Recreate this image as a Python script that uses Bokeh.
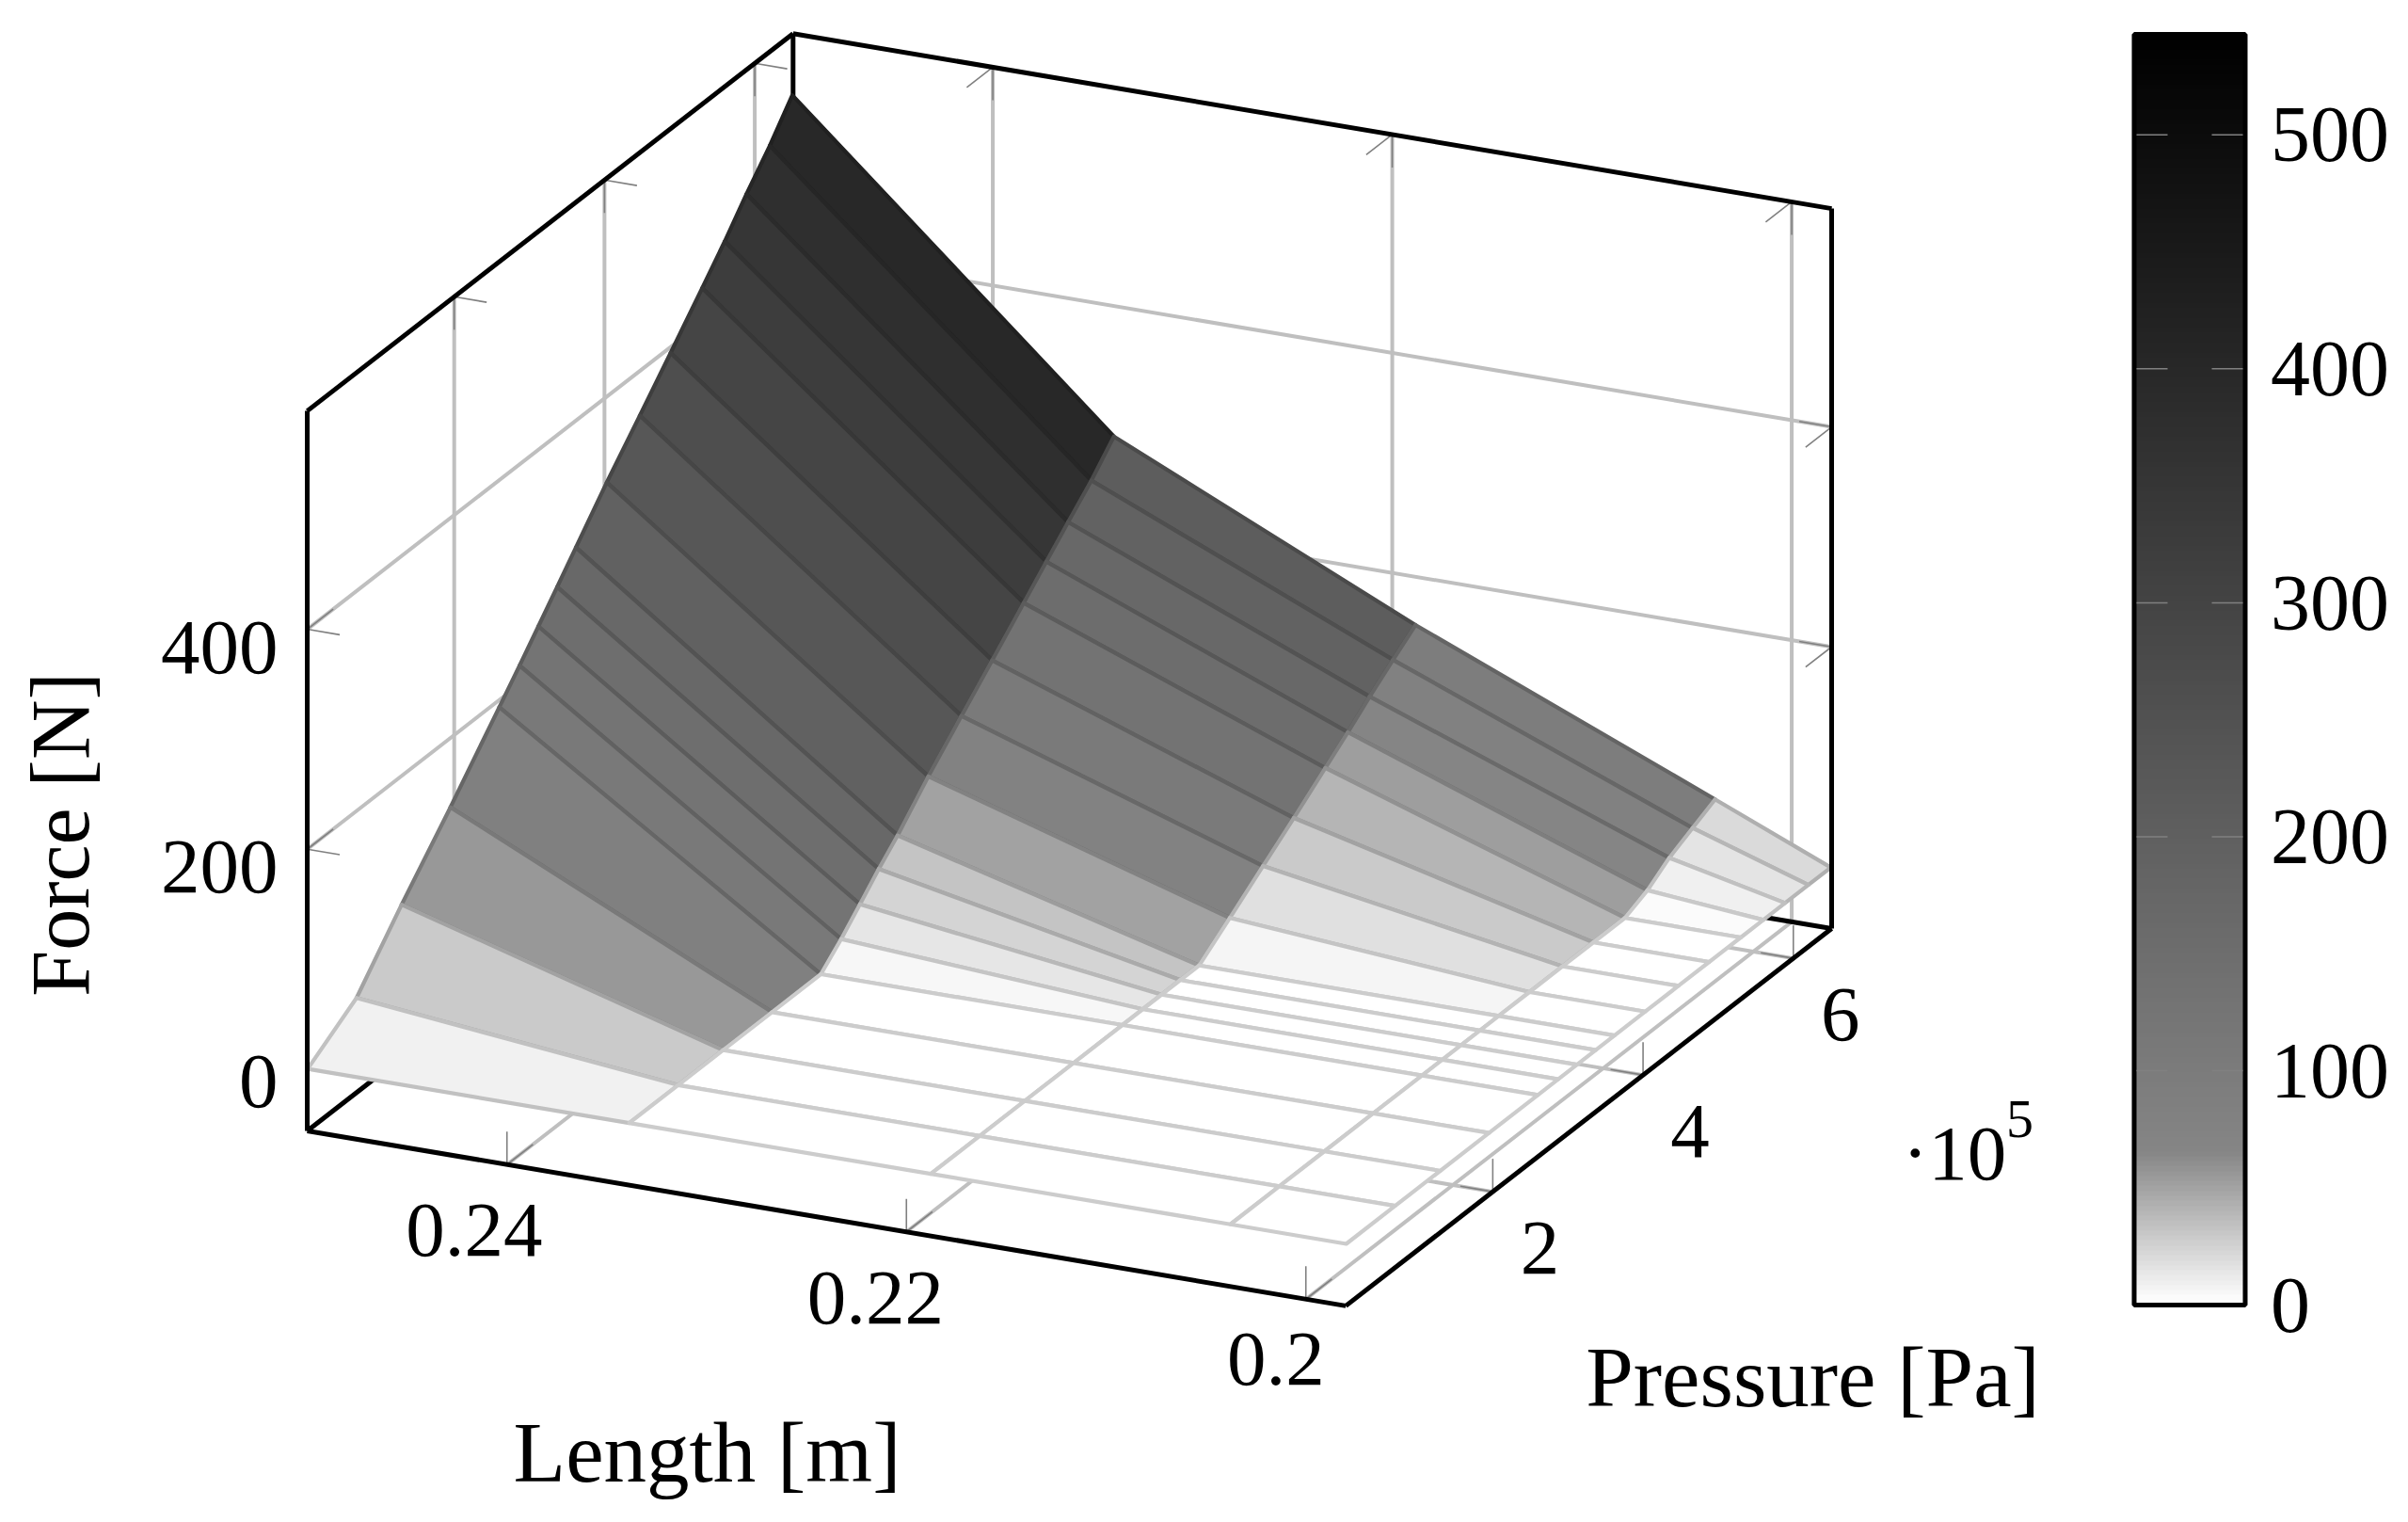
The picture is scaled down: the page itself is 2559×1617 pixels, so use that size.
from bokeh.plotting import figure
from bokeh.models import Range1d, ColorBar, LinearColorMapper, FixedTicker, ColumnDataSource
from bokeh.core.properties import value
from bokeh.embed import file_html
from bokeh.resources import INLINE

# ---------- data ----------
LENGTHS = [0.25, 0.2339, 0.2188, 0.2038, 0.198]
PRESSURES = [0.05e5, 0.7e5, 1.3e5, 1.95e5, 2.6e5, 2.87e5, 3.12e5, 3.37e5, 3.62e5,
             4.03e5, 4.47e5, 4.88e5, 5.3e5, 5.6e5, 5.89e5, 6.2e5, 6.5e5]
FORCE_L250 = [0, 30, 83, 137, 193.5, 217, 239.4, 262, 284.7, 322, 359.4, 394.6, 431.3, 457.8, 485.5, 513, 543]
FORCE_L234 = [0, 0, 0, 0, 0, 17.6, 36, 54.8, 72, 104, 135.6, 164.4, 194.3, 215.9, 236.5, 257.9, 282]
FORCE_L219 = [0, 0, 0, 0, 0, 0, 0, 0, 0, 21.5, 45.4, 67.3, 90.4, 107, 124, 141, 156.8]
FORCE_L204 = [0, 0, 0, 0, 0, 0, 0, 0, 0, 0, 0, 0, 0, 9.2, 23.3, 34, 44.2]
FORCE_L198 = [0] * 17
FORCE = [FORCE_L250, FORCE_L234, FORCE_L219, FORCE_L204, FORCE_L198]

LENGTH_TICKS = [0.24, 0.22, 0.2]
LENGTH_LABELS = ["0.24", "0.22", "0.2"]
PRESSURE_TICKS = [2e5, 4e5, 6e5]
PRESSURE_LABELS = ["2", "4", "6"]
FORCE_TICKS = [0, 200, 400]
FORCE_LABELS = ["0", "200", "400"]
CBAR_TICKS = [0, 100, 200, 300, 400, 500]

# ---------- axis limits & projection ----------
L_MAX, L_MIN = 0.25, 0.198
P_MIN, P_MAX = 0.044e5, 6.51e5
Z_MIN, Z_MAX = -56.1, 598.5
F_MAX = 543.0


def proj(L, P, z):
    u = (L_MAX - L) / 0.02
    v = (P - P_MIN) / 1e5
    w = z - Z_MIN
    return 326 + u * 424.5 + v * 79.85, 1201 + u * 71.5 - v * 62.0 - w * 1.1685


def gray_value(f):
    if f <= 65:
        return 255 - f / 65 * 122
    return 133 * (F_MAX - f) / (F_MAX - 65)


def hexgray(g):
    g = int(round(max(0, min(255, g))))
    return "#%02x%02x%02x" % (g, g, g)


p = figure(width=2543, height=1601, x_range=Range1d(0, 2543), y_range=Range1d(1601, 0),
           x_axis_location=None, y_axis_location=None, toolbar_location=None,
           output_backend="svg", min_border=0, outline_line_color=None,
           background_fill_color="white", border_fill_color="white")
p.grid.visible = False

# ---------- grid ----------
gx, gy = [], []


def seg(a, b, xs=gx, ys=gy):
    xa, ya = proj(*a)
    xb, yb = proj(*b)
    xs.append([xa, xb])
    ys.append([ya, yb])


for L in LENGTH_TICKS:
    seg((L, P_MIN, Z_MIN), (L, P_MAX, Z_MIN))
    seg((L, P_MAX, Z_MIN), (L, P_MAX, Z_MAX))
for P in PRESSURE_TICKS:
    seg((L_MAX, P, Z_MIN), (L_MIN, P, Z_MIN))
    seg((L_MAX, P, Z_MIN), (L_MAX, P, Z_MAX))
for z in FORCE_TICKS:
    seg((L_MAX, P_MIN, z), (L_MAX, P_MAX, z))
    seg((L_MAX, P_MAX, z), (L_MIN, P_MAX, z))
p.multi_line(gx, gy, line_color="#bfbfbf", line_width=4)

# ---------- ticks (35 px long on screen) ----------
tx, ty = [], []
D_L = (424.5 / 430.5 * 35, 71.5 / 430.5 * 35)      # towards smaller length
D_P = (79.85 / 101.1 * 35, -62.0 / 101.1 * 35)     # towards larger pressure
D_Z = (0, -35)                                     # towards larger force


def tick(pt, d, sign):
    x, y = proj(*pt)
    tx.append([x, x + sign * d[0]])
    ty.append([y, y + sign * d[1]])


for L in LENGTH_TICKS:
    tick((L, P_MIN, Z_MIN), D_Z, 1)
    tick((L, P_MIN, Z_MIN), D_P, 1)
    tick((L, P_MAX, Z_MAX), D_Z, -1)
    tick((L, P_MAX, Z_MAX), D_P, -1)
for P in PRESSURE_TICKS:
    tick((L_MIN, P, Z_MIN), D_Z, 1)
    tick((L_MIN, P, Z_MIN), D_L, -1)
    tick((L_MAX, P, Z_MAX), D_Z, -1)
    tick((L_MAX, P, Z_MAX), D_L, 1)
for z in FORCE_TICKS:
    tick((L_MAX, P_MIN, z), D_L, 1)
    tick((L_MAX, P_MIN, z), D_P, 1)
    tick((L_MIN, P_MAX, z), D_L, -1)
    tick((L_MIN, P_MAX, z), D_P, -1)
p.multi_line(tx, ty, line_color="#808080", line_width=1.6)

# ---------- rear box edges (hidden by the surface) ----------
bx, by = [], []
seg((L_MAX, P_MIN, Z_MIN), (L_MAX, P_MAX, Z_MIN), bx, by)
seg((L_MAX, P_MAX, Z_MIN), (L_MIN, P_MAX, Z_MIN), bx, by)
seg((L_MAX, P_MAX, Z_MIN), (L_MAX, P_MAX, Z_MAX), bx, by)
p.multi_line(bx, by, line_color="black", line_width=5)

# ---------- surface, far facets first ----------
px, py, fills, strokes = [], [], [], []
for i in range(len(LENGTHS) - 1):
    for j in range(len(PRESSURES) - 2, -1, -1):
        corners = [(i, j), (i + 1, j), (i + 1, j + 1), (i, j + 1)]
        pts = [proj(LENGTHS[a], PRESSURES[b], FORCE[a][b]) for a, b in corners]
        px.append([q[0] for q in pts])
        py.append([q[1] for q in pts])
        mean = sum(FORCE[a][b] for a, b in corners) / 4
        g = gray_value(mean)
        fills.append(hexgray(g))
        strokes.append(hexgray(g * 0.8))
p.patches(px, py, fill_color=fills, line_color=strokes, line_width=4.2, line_join="round")

# ---------- front box edges ----------
fx, fy = [], []
seg((L_MAX, P_MIN, Z_MIN), (L_MAX, P_MIN, Z_MAX), fx, fy)
seg((L_MAX, P_MIN, Z_MAX), (L_MAX, P_MAX, Z_MAX), fx, fy)
seg((L_MAX, P_MAX, Z_MAX), (L_MIN, P_MAX, Z_MAX), fx, fy)
seg((L_MIN, P_MAX, Z_MAX), (L_MIN, P_MAX, Z_MIN), fx, fy)
seg((L_MIN, P_MAX, Z_MIN), (L_MIN, P_MIN, Z_MIN), fx, fy)
seg((L_MIN, P_MIN, Z_MIN), (L_MAX, P_MIN, Z_MIN), fx, fy)
p.multi_line(fx, fy, line_color="black", line_width=5, line_join="miter")

# ---------- texts ----------
FONT = value("Liberation Serif")
SIZE = value("83px")


def label(x, y, text, align="center", size=SIZE, angle=0.0):
    p.text([x], [y], text=[text], text_font=FONT, text_font_size=size, text_color="black",
           text_align=align, text_baseline="middle", angle=angle)


for L, t, dx, dy in zip(LENGTH_TICKS, LENGTH_LABELS, (-35, -33, -32), (70, 70, 64)):
    x, y = proj(L, P_MIN, Z_MIN)
    label(x + dx, y + dy, t)
for P, t in zip(PRESSURE_TICKS, PRESSURE_LABELS):
    x, y = proj(L_MIN, P, Z_MIN)
    label(x + 50, y + 60, t)
for z, t, dy in zip(FORCE_TICKS, FORCE_LABELS, (13, 19, 19)):
    x, y = proj(L_MAX, P_MIN, z)
    label(x - 31, y + dy, t, align="right")
label(2021, 1224, "\u00b710", align="left")
label(2146, 1188, "5", size=value("58px"))
LABEL_SIZE = value("91px")
label(751, 1543, "Length [m]", size=LABEL_SIZE)
label(1926, 1463, "Pressure [Pa]", size=LABEL_SIZE)
label(64, 886, "Force [N]", size=value("88px"), angle=1.5707963)

# ---------- colour bar ----------
palette = [hexgray(gray_value(F_MAX * k / 255)) for k in range(256)]
mapper = LinearColorMapper(palette=palette, low=0, high=F_MAX)
cbar = ColorBar(color_mapper=mapper, ticker=FixedTicker(ticks=CBAR_TICKS),
                width=118, height=1350, location=(2267.5, 1601 - 1386),
                padding=0, margin=0, label_standoff=27,
                bar_line_color="black", bar_line_width=5,
                major_tick_line_color=None, minor_tick_line_color=None,
                major_label_text_font="Liberation Serif", major_label_text_font_size="84px",
                major_label_text_color="black", background_fill_color=None,
                border_line_color=None)
p.add_layout(cbar, "center")

cbar_y = ColumnDataSource(dict(v=[1385.7 - t * 2.486 for t in CBAR_TICKS[1:]]))
for a, b in ((2270, 2303), (2350, 2383)):
    p.segment(x0=a, x1=b, y0="v", y1="v", source=cbar_y, line_color="#808080",
              line_width=1.5, level="overlay")

open("out.html", "w").write(file_html(p, INLINE))
